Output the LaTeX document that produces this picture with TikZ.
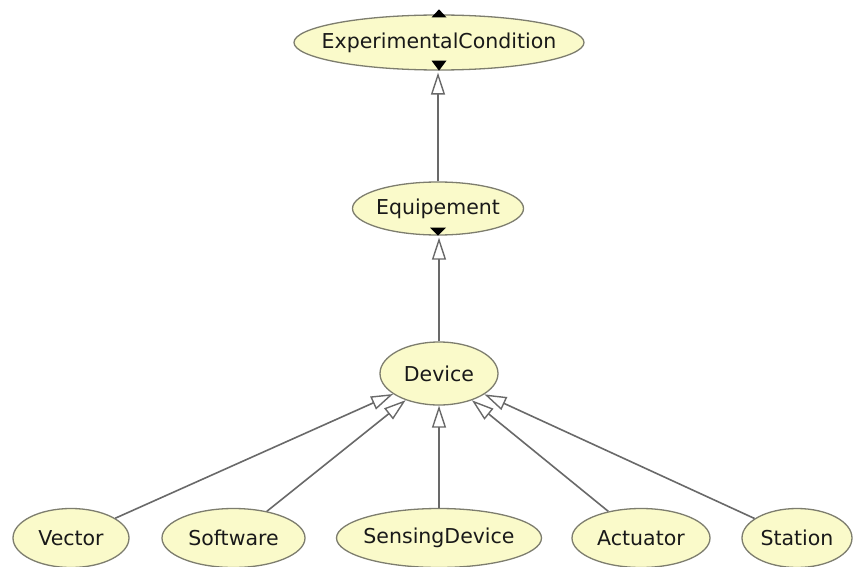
\documentclass[tikz,border=0pt]{standalone}
\usepackage{fontspec}
\setmainfont{DejaVu Sans}
\usetikzlibrary{arrows.meta,shapes.geometric,calc}

\definecolor{clsfill}{RGB}{250,250,202}
\definecolor{clsline}{RGB}{125,125,110}
\definecolor{edgeline}{RGB}{105,105,105}
\definecolor{txt}{RGB}{25,25,25}

\tikzset{
  % class ellipse of given half-axes; the name is set as a centred label
  cls/.style n args={3}{ellipse, draw=clsline, line width=1.3pt, fill=clsfill,
    inner sep=0pt, minimum width=#1*2pt, minimum height=#2*2pt,
    label={[font=\fontsize{20.5}{24}\selectfont, text=txt, inner sep=0pt]center:#3}},
  gen/.style={draw=edgeline, line width=1.6pt,
    -{Triangle[open, length=22pt, width=14pt, line width=1.4pt]}},
  marker/.style={fill=black},
}

\begin{document}
\begin{tikzpicture}[x=1pt, y=-1pt]
  \useasboundingbox[fill=white] (0,0) rectangle (862,567);

  % hierarchy
  \node[cls={145}{27.5}{ExperimentalCondition}] (ec)  at (439,42.5) {};
  \node[cls={85.5}{26.5}{Equipement}]           (eq)  at (438,208.5) {};
  \node[cls={59}{31.5}{Device}]                 (dev) at (439,373.5) {};

  \node[cls={58}{29.5}{Vector}]         (vec) at (71,538) {};
  \node[cls={71.5}{29.5}{Software}]     (sw)  at (233.5,538) {};
  \node[cls={102.5}{29.5}{SensingDevice}] (sd) at (439,538) {};
  \node[cls={69}{29.5}{Actuator}]       (act) at (641,538) {};
  \node[cls={55}{29.5}{Station}]        (sta) at (797,538) {};

  % subclass links
  \draw[gen] (eq.north) -- ([yshift=-2pt]eq.north |- ec.south);
  \draw[gen] (dev.north) -- ([yshift=-2pt]dev.north |- eq.south);
  \draw[gen] (vec) -- (dev);
  \draw[gen] (sw)  -- (dev);
  \draw[gen] (sd)  -- (dev);
  \draw[gen] (act) -- (dev);
  \draw[gen] (sta) -- (dev);

  % expand / collapse markers (y grows downwards here)
  \fill[marker] ([shift={(-7.5,3)}]ec.north) -- ([shift={(7.5,3)}]ec.north)
                -- ([shift={(0,-5)}]ec.north) -- cycle;
  \fill[marker] ([shift={(-7.5,-10)}]ec.south) -- ([shift={(7.5,-10)}]ec.south)
                -- (ec.south) -- cycle;
  \fill[marker] ([shift={(-8,-8)}]eq.south) -- ([shift={(8,-8)}]eq.south)
                -- (eq.south) -- cycle;
\end{tikzpicture}
\end{document}
